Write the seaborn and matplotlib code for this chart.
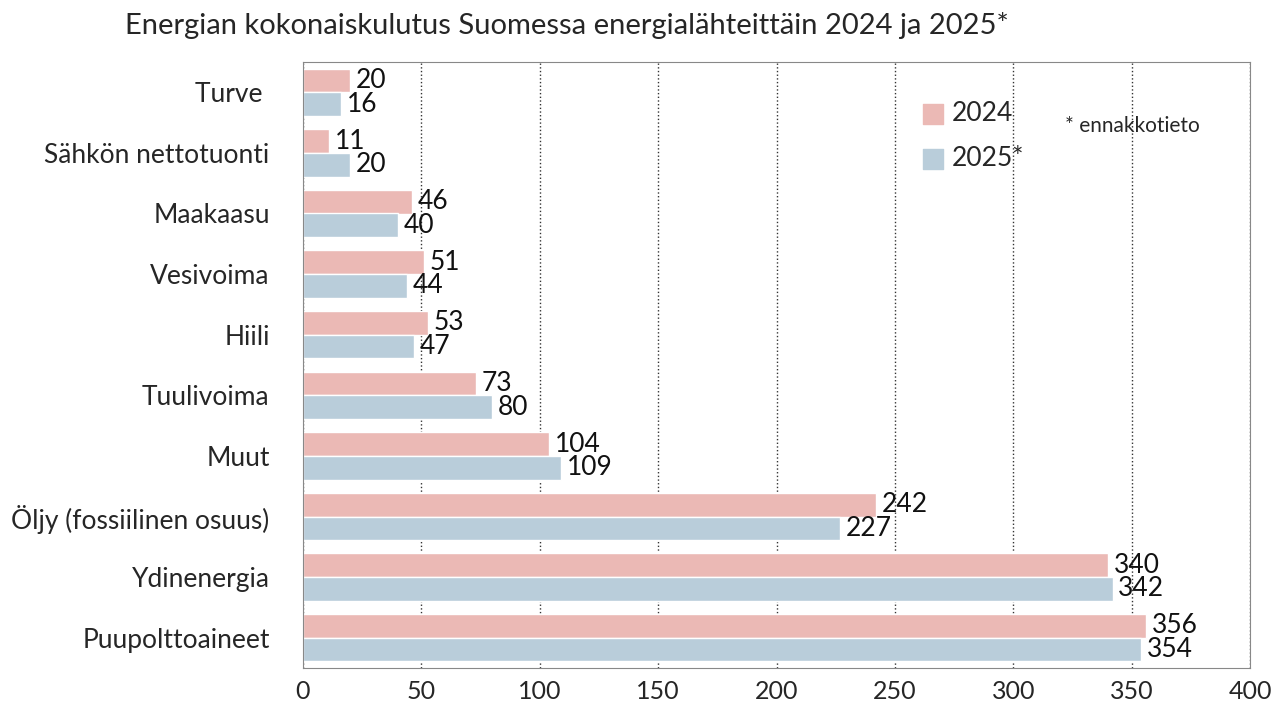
import pandas as pd
import seaborn as sns
import matplotlib.pyplot as plt

categories = ["Turve ", "Sähkön nettotuonti", "Maakaasu", "Vesivoima", "Hiili",
              "Tuulivoima", "Muut", "Öljy (fossiilinen osuus)", "Ydinenergia",
              "Puupolttoaineet"]
values_2024 = [20, 11, 46, 51, 53, 73, 104, 242, 340, 356]
values_2025 = [16, 20, 40, 44, 47, 80, 109, 227, 342, 354]
years = ["2024", "2025*"]

df = pd.DataFrame({
    "source": categories * 2,
    "value": values_2024 + values_2025,
    "year": [years[0]] * len(categories) + [years[1]] * len(categories),
})

sns.set_style("white")
plt.rcParams['font.family'] = ['Lato', 'DejaVu Sans']

fig = plt.figure(figsize=(12.8, 7.23), dpi=100)
ax = fig.add_axes([303 / 1280, 1 - 668 / 723, (1250 - 303) / 1280, (668 - 62) / 723])

palette = {"2024": "#ebb9b5", "2025*": "#b9cdda"}
sns.barplot(data=df, y="source", x="value", hue="year", order=categories,
            hue_order=years, palette=palette, orient="h", width=0.78,
            saturation=1, ax=ax, legend=False)

for cont in ax.containers:
    ax.bar_label(cont, padding=4, fontsize=19, color="#111111")

ax.set_xlim(0, 400)
ax.set_xticks(range(0, 401, 50))
ax.set_ylim(len(categories) - 0.5, -0.5)
ax.xaxis.grid(True, linestyle=":", color="#333333", linewidth=1)
ax.set_axisbelow(True)
ax.set_xlabel("")
ax.set_ylabel("")
ax.tick_params(axis="x", labelsize=18, length=5, color="#333333")
ax.tick_params(axis="y", labelsize=19, length=0, pad=24)
for s in ax.spines.values():
    s.set_color("#888888")

# legend
for i, (yr, ypos) in enumerate(zip(years, [0.915, 0.84])):
    ax.scatter([0.665], [ypos], marker="s", s=200, color=palette[yr],
               transform=ax.transAxes, clip_on=False)
    ax.text(0.685, ypos, yr, transform=ax.transAxes, fontsize=19, va="center")
ax.text(0.805, 0.895, "* ennakkotieto", transform=ax.transAxes, fontsize=15, va="center")

fig.text(0.098, 0.965, "Energian kokonaiskulutus Suomessa energialähteittäin 2024 ja 2025*",
         fontsize=21, va="center")

fig.savefig("out.png", dpi=100)
